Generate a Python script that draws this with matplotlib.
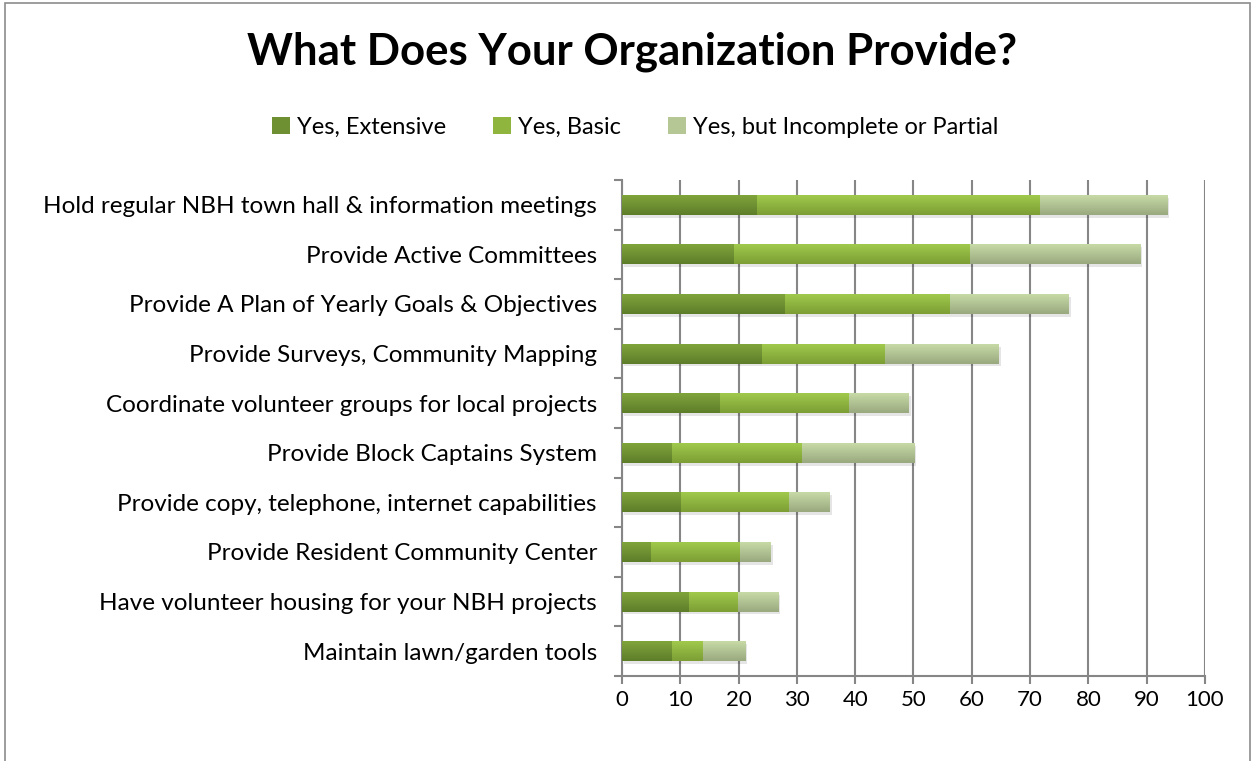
import numpy as np
import matplotlib.pyplot as plt
from matplotlib.colors import to_rgb
from matplotlib.patches import Rectangle

categories = [
    "Hold regular NBH town hall & information meetings",
    "Provide Active Committees",
    "Provide A Plan of Yearly Goals & Objectives",
    "Provide Surveys, Community Mapping",
    "Coordinate volunteer groups for local projects",
    "Provide Block Captains System",
    "Provide copy, telephone, internet capabilities",
    "Provide Resident Community Center",
    "Have volunteer housing for your NBH projects",
    "Maintain lawn/garden tools",
]
extensive = [23.2, 19.3, 28.0, 24.1, 16.8, 8.6, 10.2, 5.0, 11.5, 8.6]
basic = [48.5, 40.4, 28.3, 21.1, 22.2, 22.3, 18.5, 15.3, 8.4, 5.3]
partial = [21.8, 29.2, 20.4, 19.5, 10.2, 19.3, 7.0, 5.3, 6.9, 7.3]
series_names = ["Yes, Extensive", "Yes, Basic", "Yes, but Incomplete or Partial"]
xticks = list(range(0, 101, 10))

# (top colour, bottom colour) for the vertical gradient on each series
grad = [("#80a43c", "#5e7d29"), ("#a0c94c", "#7c9e34"), ("#c6daa6", "#9aa97f")]
legend_colors = ["#6e8f32", "#8fb53f", "#b5c795"]

plt.rcParams['font.family'] = ['Lato', 'DejaVu Sans']

fig = plt.figure(figsize=(12.55, 7.61), dpi=100)
ax = fig.add_axes([0.4956, 0.1117, 0.4645, 0.6518])

y = np.arange(len(categories))
left = np.zeros(len(categories))
h = 0.4
for vals, name, (c1, c2) in zip([extensive, basic, partial], series_names, grad):
    # soft shadow
    ax.barh(y + 0.06, vals, left=left + 0.3, height=h, color="#000000", alpha=0.10, zorder=2, linewidth=0)
    bars = ax.barh(y, vals, left=left, height=h, color=c1, label=name, zorder=3, linewidth=0)
    g = np.linspace(0, 1, 32)[:, None]
    top, bot = np.array(to_rgb(c1)), np.array(to_rgb(c2))
    img = top[None, None, :] * (1 - g[..., None]) + bot[None, None, :] * g[..., None]
    for b in bars:
        x0, yb, w, hh = b.get_x(), b.get_y(), b.get_width(), b.get_height()
        ax.imshow(img, extent=(x0, x0 + w, yb + hh, yb), aspect='auto', zorder=4, interpolation='bilinear')
    left = left + np.array(vals)

ax.set_xlim(0, 100)
ax.set_ylim(len(categories) - 0.5, -0.5)
ax.set_xticks(xticks)
ax.set_yticks(y)
ax.set_yticklabels(categories, fontsize=17.5)
ax.set_yticks(np.arange(-0.5, len(categories)), minor=True)
ax.tick_params(axis='y', which='major', length=0, pad=18)
ax.tick_params(axis='y', which='minor', length=6, width=1.5, color="#868686")
ax.tick_params(axis='x', length=6, width=1.5, color="#868686", labelsize=16, pad=4)
ax.grid(axis='x', color="#868686", linewidth=1.5, zorder=0)
ax.set_axisbelow(True)
for s in ["top", "right"]:
    ax.spines[s].set_visible(False)
for s in ["left", "bottom"]:
    ax.spines[s].set_color("#868686")
    ax.spines[s].set_linewidth(1.5)

fig.text(0.504, 0.932, "What Does Your Organization Provide?", ha='center', va='center',
         fontsize=31.5, fontweight='bold')
handles, labels = ax.get_legend_handles_labels()
leg = fig.legend(handles, labels, loc='center', bbox_to_anchor=(0.506, 0.833), ncol=3,
                 frameon=False, fontsize=17, handlelength=0.75, handleheight=0.75,
                 handletextpad=0.3, columnspacing=2.0)
for hdl, c in zip(leg.legend_handles, legend_colors):
    hdl.set_color(c)

fig.patches.append(Rectangle((0.004, -0.1), 0.992, 1.096, transform=fig.transFigure,
                             fill=False, edgecolor="#8c8c8c", linewidth=1.2))

fig.savefig("out.png", dpi=100)
